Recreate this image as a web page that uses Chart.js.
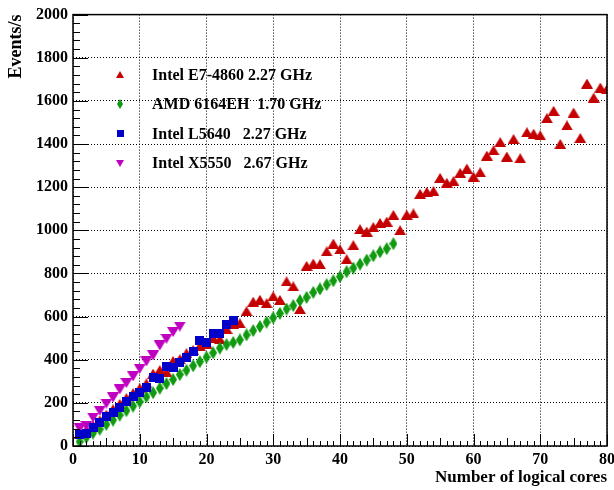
<!DOCTYPE html>
<html>
<head>
<meta charset="utf-8">
<script src="https://cdn.jsdelivr.net/npm/chart.js@4.4.1/dist/chart.umd.min.js"></script>
<style>
  html, body { margin: 0; padding: 0; background: #fff; }
</style>
</head>
<body>
<canvas id="coresChart" width="614" height="490"></canvas>
<script>
// series labels (legend order)
const seriesNames = [
    'Intel E7-4860 2.27 GHz',
    'AMD 6164EH  1.70 GHz',
    'Intel L5640   2.27 GHz',
    'Intel X5550   2.67 GHz'
];

// Intel E7-4860, 1..80 cores
const coresE7 = [1, 2, 3, 4, 5, 6, 7, 8, 9, 10, 11, 12, 13, 14, 15, 16, 17, 18, 19, 20,
    21, 22, 23, 24, 25, 26, 27, 28, 29, 30, 31, 32, 33, 34, 35, 36, 37, 38, 39, 40,
    41, 42, 43, 44, 45, 46, 47, 48, 49, 50, 51, 52, 53, 54, 55, 56, 57, 58, 59, 60,
    61, 62, 63, 64, 65, 66, 67, 68, 69, 70, 71, 72, 73, 74, 75, 76, 77, 78, 79, 80];
const eventsE7 = [55, 72, 95, 118, 145, 170, 195, 222, 245, 268, 290, 335, 352, 343, 394, 402, 430, 445, 463, 474,
    500, 495, 543, 565, 569, 625, 669, 678, 662, 694, 677, 763, 740, 635, 835, 846, 843, 902, 938, 911,
    866, 931, 1005, 994, 1015, 1034, 1040, 1071, 1000, 1072, 1078, 1169, 1178, 1182, 1243, 1220, 1228, 1266, 1286, 1249,
    1269, 1346, 1371, 1409, 1342, 1423, 1334, 1454, 1448, 1440, 1520, 1554, 1400, 1486, 1546, 1428, 1680, 1615, 1662, 1654];

// AMD 6164EH, 1..48 cores
const coresAMD = [1, 2, 3, 4, 5, 6, 7, 8, 9, 10, 11, 12, 13, 14, 15, 16, 17, 18, 19, 20,
    21, 22, 23, 24, 25, 26, 27, 28, 29, 30, 31, 32, 33, 34, 35, 36, 37, 38, 39, 40,
    41, 42, 43, 44, 45, 46, 47, 48];
const eventsAMD = [20, 40, 60, 78, 100, 120, 143, 164, 185, 205, 228, 247, 268, 289, 308, 331, 351, 372, 391, 412,
    432, 454, 470, 480, 492, 515, 535, 554, 574, 594, 615, 635, 651, 674, 689, 712, 728, 748, 766, 785,
    808, 825, 843, 862, 882, 900, 915, 938];

// Intel L5640, 1..24 cores
const coresL5640 = [1, 2, 3, 4, 5, 6, 7, 8, 9, 10, 11, 12, 13, 14, 15, 16, 17, 18, 19, 20, 21, 22, 23, 24];
const eventsL5640 = [51, 58, 86, 108, 135, 155, 178, 205, 228, 248, 271, 318, 311, 369, 363, 389, 412, 438, 489, 478,
    520, 523, 562, 580];

// Intel X5550, 1..16 cores
const coresX5550 = [1, 2, 3, 4, 5, 6, 7, 8, 9, 10, 11, 12, 13, 14, 15, 16];
const eventsX5550 = [82, 92, 132, 163, 197, 225, 262, 292, 323, 358, 392, 420, 466, 497, 528, 554];

const xTicks = [0, 10, 20, 30, 40, 50, 60, 70, 80];
const yTicks = [0, 200, 400, 600, 800, 1000, 1200, 1400, 1600, 1800, 2000];

const colors = ['#c40000', '#109a10', '#0000c8', '#c000c0'];
const serif = "'Liberation Serif', 'Times New Roman', serif";

// small canvas markers (ROOT-like shapes)
function makeMarker(shape, color, w, h) {
    const c = document.createElement('canvas');
    c.width = w;
    c.height = h;
    const g = c.getContext('2d');
    g.fillStyle = color;
    g.beginPath();
    if (shape === 'up') {
        g.moveTo(w / 2, 0); g.lineTo(w, h); g.lineTo(0, h);
    } else if (shape === 'down') {
        g.moveTo(0, 0); g.lineTo(w, 0); g.lineTo(w / 2, h);
    } else if (shape === 'diamond') {
        g.moveTo(w / 2, 0); g.lineTo(w, h / 2); g.lineTo(w / 2, h); g.lineTo(0, h / 2);
    } else {
        g.rect(0, 0, w, h);
    }
    g.closePath();
    g.fill();
    return c;
}

const markers = [
    makeMarker('up', colors[0], 12, 10),
    makeMarker('diamond', colors[1], 8, 13),
    makeMarker('square', colors[2], 9, 9),
    makeMarker('down', colors[3], 12, 10)
];
const legendMarkers = [
    makeMarker('up', colors[0], 8, 7),
    makeMarker('diamond', colors[1], 6, 10),
    makeMarker('square', colors[2], 7, 7),
    makeMarker('down', colors[3], 8, 7)
];

function toPoints(xs, ys) {
    return xs.map((v, i) => ({ x: v, y: ys[i] }));
}

// frame, inner tick marks and the legend box, ROOT style
const rootStyle = {
    id: 'rootStyle',
    afterDatasetsDraw(chart) {
        const { ctx, chartArea: a, scales } = chart;
        const x = scales.x, y = scales.y;
        ctx.save();
        ctx.strokeStyle = '#000';
        ctx.lineWidth = 1;
        ctx.beginPath();
        for (let v = 0; v <= 80; v += 1) {
            const px = Math.round(x.getPixelForValue(v)) + 0.5;
            const len = v % 10 === 0 ? 12 : (v % 5 === 0 ? 8 : 5);
            ctx.moveTo(px, a.bottom);
            ctx.lineTo(px, a.bottom - len);
        }
        for (let v = 0; v <= 2000; v += 40) {
            const py = Math.round(y.getPixelForValue(v)) + 0.5;
            const len = v % 200 === 0 ? 15 : 7;
            ctx.moveTo(a.left, py);
            ctx.lineTo(a.left + len, py);
        }
        ctx.stroke();
        ctx.lineWidth = 1.5;
        ctx.strokeRect(a.left, a.top, a.right - a.left, a.bottom - a.top);

        // legend
        const rows = [74.5, 104, 133.5, 163];
        ctx.font = 'bold 16px ' + serif;
        ctx.fillStyle = '#000';
        ctx.textBaseline = 'middle';
        ctx.textAlign = 'left';
        chart.data.datasets.forEach((ds, i) => {
            const m = legendMarkers[i];
            ctx.drawImage(m, Math.round(120 - m.width / 2), Math.round(rows[i] - m.height / 2));
            ctx.fillText(ds.label, 152, rows[i] + 1);
        });
        ctx.restore();
    }
};

const datasets = [
    { label: seriesNames[0], data: toPoints(coresE7, eventsE7), pointStyle: markers[0], order: 4 },
    { label: seriesNames[1], data: toPoints(coresAMD, eventsAMD), pointStyle: markers[1], order: 3 },
    { label: seriesNames[2], data: toPoints(coresL5640, eventsL5640), pointStyle: markers[2], order: 1 },
    { label: seriesNames[3], data: toPoints(coresX5550, eventsX5550), pointStyle: markers[3], order: 2 }
].map((d, i) => Object.assign(d, {
    backgroundColor: colors[i],
    borderColor: colors[i],
    pointRadius: 5,
    showLine: false
}));

new Chart(document.getElementById('coresChart'), {
    type: 'scatter',
    data: { datasets: datasets },
    options: {
        responsive: false,
        animation: false,
        layout: { padding: { top: 14, right: 7, left: 0, bottom: 0 } },
        plugins: {
            legend: { display: false },
            tooltip: { enabled: false }
        },
        scales: {
            x: {
                type: 'linear',
                min: 0,
                max: 80,
                afterBuildTicks: (scale) => { scale.ticks = xTicks.map(v => ({ value: v })); },
                afterFit: (scale) => { scale.height = 44; scale.paddingRight = 0; scale.paddingLeft = 0; },
                ticks: {
                    padding: 4,
                    color: '#000',
                    maxRotation: 0,
                    callback: (v) => String(v),
                    font: { family: serif, size: 16, weight: 'bold' }
                },
                grid: { color: '#000', lineWidth: 1, drawTicks: false },
                border: { display: false, dash: [1, 2] },
                title: {
                    display: true,
                    text: 'Number of logical cores',
                    align: 'end',
                    color: '#000',
                    padding: { top: 0, bottom: 2 },
                    font: { family: serif, size: 17, weight: 'bold' }
                }
            },
            y: {
                type: 'linear',
                min: 0,
                max: 2000,
                afterBuildTicks: (scale) => { scale.ticks = yTicks.map(v => ({ value: v })); },
                afterFit: (scale) => { scale.width = 73; },
                ticks: {
                    padding: 5,
                    color: '#000',
                    callback: (v) => String(v),
                    font: { family: serif, size: 16, weight: 'bold' }
                },
                grid: { color: '#000', lineWidth: 1, drawTicks: false },
                border: { display: false, dash: [1, 2] },
                title: {
                    display: true,
                    text: 'Events/s',
                    align: 'end',
                    color: '#000',
                    padding: { top: 6, bottom: 0 },
                    font: { family: serif, size: 18, weight: 'bold' }
                }
            }
        }
    },
    plugins: [rootStyle]
});
</script>
</body>
</html>
